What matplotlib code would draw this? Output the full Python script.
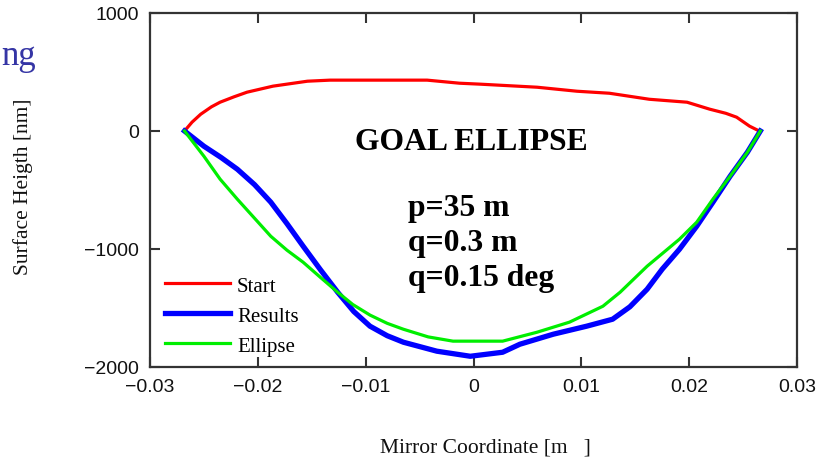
import matplotlib
matplotlib.use("Agg")
import matplotlib.pyplot as plt
from matplotlib.lines import Line2D

# Mirror coordinate [m] and surface height [nm] for each profile
start_x = [-0.0268, -0.0261, -0.0253, -0.0243, -0.0235, -0.0222, -0.0210, -0.0186,
           -0.0154, -0.0133, -0.0043, -0.0013, 0.0006, 0.0059, 0.0096, 0.0126, 0.0163,
           0.0198, 0.0219, 0.0234, 0.0244, 0.0256, 0.0265]
start_y = [0, 75, 142, 205, 244, 290, 329, 380, 422, 431, 431, 405, 397, 371, 337, 320,
           269, 244, 185, 150, 117, 41, 0]

results_x = [-0.0268, -0.0250, -0.0234, -0.0219, -0.0203, -0.0188, -0.0173, -0.0158,
             -0.0142, -0.0126, -0.0111, -0.0096, -0.0080, -0.0065, -0.0034, -0.0003,
             0.0027, 0.0043, 0.0074, 0.0105, 0.0129, 0.0145, 0.0161, 0.0175, 0.0191,
             0.0207, 0.0222, 0.0238, 0.0254, 0.0266]
results_y = [0, -129, -225, -324, -455, -603, -785, -976, -1175, -1366, -1530, -1654,
             -1735, -1790, -1866, -1909, -1875, -1807, -1722, -1654, -1595, -1490, -1341,
             -1171, -1002, -807, -604, -383, -180, 0]

ellipse_x = [-0.0268, -0.0250, -0.0235, -0.0219, -0.0203, -0.0188, -0.0173, -0.0158,
             -0.0142, -0.0126, -0.0112, -0.0096, -0.0080, -0.0065, -0.0042, -0.0019,
             0.0027, 0.0059, 0.0089, 0.0120, 0.0136, 0.0161, 0.0191, 0.0207, 0.0222,
             0.0238, 0.0254, 0.0266]
ellipse_y = [0, -214, -408, -578, -740, -892, -1010, -1112, -1240, -1366, -1470, -1560,
             -1630, -1680, -1745, -1781, -1781, -1705, -1620, -1485, -1366, -1146, -917,
             -773, -578, -383, -180, 0]

x_ticks = [-0.03, -0.02, -0.01, 0.0, 0.01, 0.02, 0.03]
x_tick_labels = ["\u22120.03", "\u22120.02", "\u22120.01", "0", "0.01", "0.02", "0.03"]
y_ticks = [1000, 0, -1000, -2000]
y_tick_labels = ["1000", "0", "\u22121000", "\u22122000"]

series_labels = ["Start", "Results", "Ellipse"]
goal_lines = ["p=35 m", "q=0.3 m", "q=0.15 deg"]

W, H = 817, 460
fig = plt.figure(figsize=(W / 100, H / 100), dpi=100)


def fx(px):
    return px / W


def fy(py):
    return 1 - py / H


ax = fig.add_axes([fx(150), fy(368), (797 - 150) / W, (368 - 14) / H])

ax.plot(start_x, start_y, color="#ff0000", lw=2.3)
ax.plot(results_x, results_y, color="#0000ff", lw=3.8)
ax.plot(ellipse_x, ellipse_y, color="#00ee00", lw=2.3)

ax.set_xlim(-0.03, 0.03)
ax.set_ylim(-2000, 1000)
ax.set_xticks(x_ticks)
ax.set_xticklabels(x_tick_labels)
ax.set_yticks(y_ticks)
ax.set_yticklabels(y_tick_labels)

for lab in ax.get_xticklabels() + ax.get_yticklabels():
    lab.set_fontfamily("Liberation Sans")
    lab.set_fontsize(14)
    lab.set_color("#111111")

ax.tick_params(axis="both", which="both", direction="in", length=7, width=1.5,
               color="#333333", top=True, right=True)
ax.tick_params(axis="x", pad=8)
ax.tick_params(axis="y", pad=8)
for sp in ax.spines.values():
    sp.set_linewidth(1.6)
    sp.set_color("#333333")

# Axis titles
fig.text(fx(485), fy(448), "Mirror Coordinate [m   ]", family="Liberation Serif",
         fontsize=15.5, ha="center", va="center", color="#111111")
fig.text(fx(23), fy(187), "Surface Heigth [nm]", family="Liberation Serif",
         fontsize=15.5, ha="center", va="center", rotation=90, color="#111111")

# Legend
handles = [Line2D([], [], color="#ff0000", lw=2.3),
           Line2D([], [], color="#0000ff", lw=3.8),
           Line2D([], [], color="#00ee00", lw=2.3)]
leg = ax.legend(handles, series_labels, loc="upper left",
                bbox_to_anchor=(fx(165), fy(277)), bbox_transform=fig.transFigure,
                frameon=False, borderpad=0, borderaxespad=0, handlelength=3.1,
                handletextpad=0.35, labelspacing=0.5,
                prop={"family": "Liberation Serif", "size": 15})

# Goal ellipse annotation
fig.text(fx(355), fy(150), "GOAL ELLIPSE", family="Liberation Serif",
         fontweight="bold", fontsize=22.8, ha="left", va="baseline", color="#000000")
for i, line in enumerate(goal_lines):
    fig.text(fx(408), fy(216 + 35 * i), line, family="Liberation Serif",
             fontweight="bold", fontsize=22.8, ha="left", va="baseline", color="#000000")

# Heading fragment at the left edge
fig.text(fx(1), fy(65), "ng", family="Liberation Serif", fontsize=25,
         ha="left", va="baseline", color="#3535a5")

fig.savefig("out.png", dpi=100)
